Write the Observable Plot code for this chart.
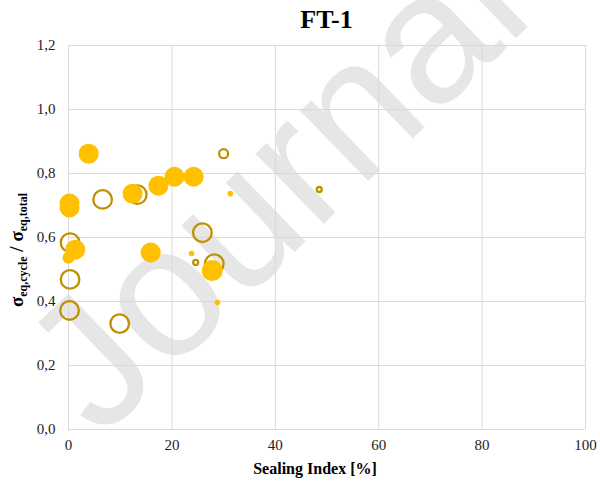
<!DOCTYPE html>
<html>
<head>
<meta charset="utf-8">
<script src="https://cdn.jsdelivr.net/npm/d3@7"></script>
<script src="https://cdn.jsdelivr.net/npm/@observablehq/plot@0.6"></script>
<style>
  html, body { margin: 0; padding: 0; background: #fff; }
  #wrap { position: relative; width: 600px; height: 486px; overflow: hidden; font-family: "Liberation Serif", "Times New Roman", serif; }
  #wm { position: absolute; left: 0; top: 0; z-index: 0; }
  #title { position: absolute; left: 68px; width: 517px; top: 5px; text-align: center; font-weight: bold; font-size: 26px; line-height: 30px; z-index: 2; }
  #chart { position: absolute; left: 0; top: 30px; z-index: 1; }
  #ylab { position: absolute; left: 18px; top: 250px; transform: translate(-50%, -50%) rotate(-90deg); white-space: nowrap; font-weight: bold; font-size: 19px; z-index: 2; }
  #ylab sub { font-size: 12px; vertical-align: -4px; }
  #xlab { position: absolute; left: 315px; top: 460px; transform: translateX(-50%); white-space: nowrap; font-weight: bold; font-size: 16px; z-index: 2; }
</style>
</head>
<body>
<div id="wrap">
  <svg id="wm" width="600" height="486"><text x="100" y="440" transform="rotate(-44 100 440)" style="font-family: 'Liberation Sans', Arial, sans-serif;" font-size="185" fill="#e6e6e6">Journal</text></svg>
  <div id="title">FT-1</div>
  <div id="chart"></div>
  <div id="ylab">σ<sub>eq,cycle</sub> / σ<sub>eq,total</sub></div>
  <div id="xlab">Sealing Index [%]</div>
</div>
<script>
// Filled series (gold)
const filledX = [3.9, 0.2, 0.2, 1.3, 0.0, 12.4, 17.4, 20.5, 24.2, 15.9, 27.8, 23.8, 28.8, 31.3];
const filledY = [0.862, 0.706, 0.694, 0.562, 0.537, 0.737, 0.762, 0.790, 0.790, 0.553, 0.497, 0.550, 0.397, 0.737];
const filledR = [10, 10, 10, 10, 6, 10, 10, 10, 10, 10, 10.5, 2.8, 2.8, 2.8];
// Hollow series (dark gold outline)
const hollowX = [0.3, 0.3, 0.2, 6.6, 13.3, 9.9, 25.9, 28.2, 24.6, 30.0, 48.5];
const hollowY = [0.584, 0.469, 0.372, 0.719, 0.734, 0.331, 0.615, 0.518, 0.522, 0.862, 0.750];
const hollowR = [9.3, 9.3, 9.3, 9.3, 9.3, 9.3, 9.3, 9.3, 2.5, 4.5, 2.5];
// Ticks
const xTicks = [0, 20, 40, 60, 80, 100];
const yTicks = [0, 0.2, 0.4, 0.6, 0.8, 1.0, 1.2];

const filled = filledX.map((x, i) => ({x, y: filledY[i], r: filledR[i]}));
const hollow = hollowX.map((x, i) => ({x, y: hollowY[i], r: hollowR[i]}));
const fmtY = d => d3.format(".1f")(d).replace(".", ",");

const plot = Plot.plot({
  width: 600,
  height: 456,
  marginTop: 15,
  marginBottom: 57,
  marginLeft: 68,
  marginRight: 15,
  style: {background: "transparent", fontFamily: "Liberation Serif, Times New Roman, serif", fontSize: "15px", color: "#222"},
  x: {domain: [0, 100]},
  y: {domain: [0, 1.2]},
  r: {type: "identity"},
  marks: [
    Plot.gridX(xTicks, {stroke: "#d9d9d9", strokeOpacity: 1, strokeWidth: 1}),
    Plot.gridY(yTicks, {stroke: "#d9d9d9", strokeOpacity: 1, strokeWidth: 1}),
    Plot.axisX(xTicks, {tickSize: 0, tickPadding: 10, label: null, fontSize: 15}),
    Plot.axisY(yTicks, {tickSize: 0, tickPadding: 13, label: null, tickFormat: fmtY, fontSize: 15}),
    Plot.dot(hollow, {x: "x", y: "y", r: "r", stroke: "#BF9000", strokeWidth: 2.3, fill: "none"}),
    Plot.dot(filled, {x: "x", y: "y", r: "r", fill: "#FFC000", stroke: "none"})
  ]
});
document.getElementById("chart").appendChild(plot);
</script>
</body>
</html>
